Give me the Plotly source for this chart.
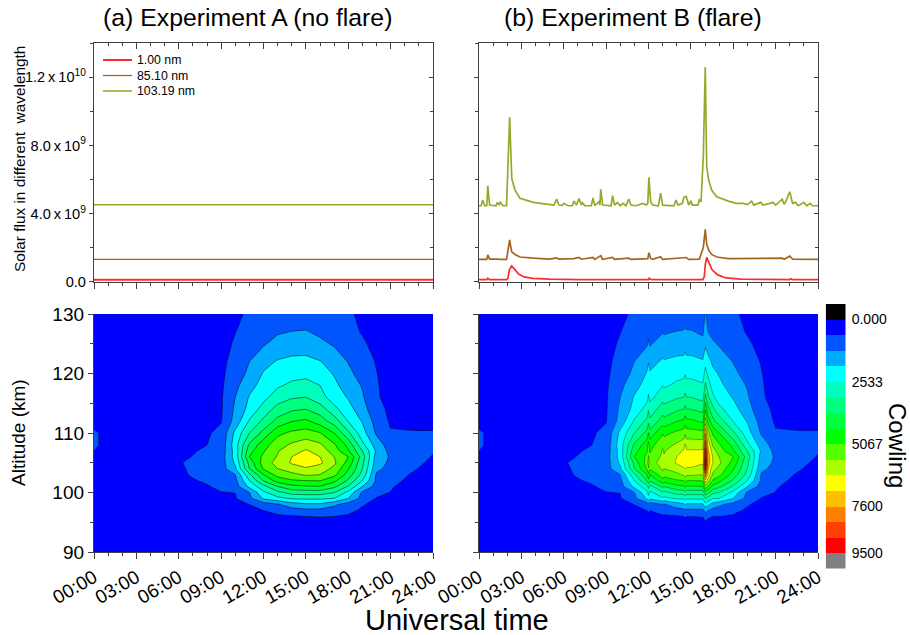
import numpy as np
import plotly.graph_objects as go

# ---------- flux data (units of 1e9) ----------
hours_line = [0, 24]
flux_a_1nm = [0.12, 0.12]
flux_a_85nm = [1.31, 1.31]
flux_a_103nm = [4.52, 4.52]

hours_103 = [0,0.15,0.26,0.4,0.55,0.62,0.75,1.2,1.3,1.42,1.5,1.7,1.95,2.1,2.17,2.25,2.32,2.55,2.9,3.85,5,5.3,5.5,5.65,5.9,6.0,6.3,
             6.6,6.72,6.9,7.08,7.25,7.32,7.5,7.95,8.07,8.2,8.5,8.56,8.62,8.75,9.35,9.46,9.6,9.8,10,10.2,10.4,10.6,10.75,11.1,11.6,
             11.85,11.95,12.03,12.15,12.3,12.7,12.86,13.0,13.8,13.95,14.1,14.4,14.5,14.67,14.85,15,15.1,15.5,15.6,15.72,15.88,16.02,
             16.12,16.26,16.47,16.83,17.65,18.2,18.7,19,19.3,19.45,19.95,20.1,20.6,20.8,21.0,21.2,21.47,21.6,21.72,22.0,22.2,22.4,
             22.6,23.0,23.2,23.45,23.6,24]
flux_b_103nm = [4.46,4.46,4.8,4.46,4.46,5.63,4.5,4.46,4.66,4.5,4.66,4.46,4.46,8.3,9.66,7.7,6.05,5.38,4.9,4.66,4.52,4.5,4.85,4.5,4.48,4.6,4.46,
                4.46,4.73,4.5,4.88,4.5,4.63,4.46,4.46,4.92,4.46,4.7,4.5,5.43,4.5,4.46,5.05,4.5,4.65,4.46,4.6,4.46,4.85,4.5,4.46,4.6,
                4.5,4.6,6.13,4.7,4.5,4.46,5.2,4.5,4.46,4.8,4.5,4.6,4.95,5.0,4.5,4.75,4.5,4.5,4.8,4.7,7.35,12.6,
                6.75,5.97,5.38,4.99,4.73,4.6,4.6,4.53,4.73,4.5,4.66,4.5,4.6,4.66,4.5,4.66,4.85,4.55,4.7,5.28,4.6,4.66,
                4.46,4.66,4.46,4.6,4.46,4.46]

hours_85 = [0,0.55,0.62,0.75,1.3,1.45,1.95,2.1,2.17,2.25,2.32,2.55,2.9,3.85,5,5.5,5.65,6.72,7.08,7.25,8.07,8.2,8.62,8.75,9.46,9.6,10.6,10.75,
            11.95,12.03,12.15,12.3,12.86,13,14.5,14.67,14.85,15.6,15.88,16.02,16.12,16.26,16.47,16.83,17.65,19.3,21.47,21.6,22,22.2,24]
flux_b_85nm = [1.31,1.31,1.57,1.33,1.33,1.31,1.31,1.95,2.45,2.05,1.75,1.6,1.45,1.38,1.33,1.4,1.32,1.36,1.42,1.32,1.42,1.31,1.53,1.32,1.43,1.31,1.38,1.31,
               1.35,1.7,1.38,1.31,1.47,1.31,1.38,1.42,1.31,1.33,2.0,3.07,2.2,1.85,1.6,1.45,1.36,1.35,1.38,1.32,1.5,1.32,1.31]

hours_1 = [0,0.55,0.62,0.75,1.95,2.05,2.15,2.31,2.5,2.8,3.2,3.8,5,7,12,12.05,12.2,15.85,15.95,16.02,16.12,16.3,16.5,16.9,17.5,18.5,20,22,22.05,22.2,24]
flux_b_1nm = [.12,.12,.2,.12,.12,.2,.7,.92,.75,.45,.28,.2,.15,.12,.12,.2,.12,.12,.3,1.0,1.43,1.1,.7,.4,.22,.15,.12,.12,.17,.12,.12]

# ---------- cowling grids ----------
altitudes = [90,95,96,97,98,99,100,101,102,103,104,105,106,107,108,110,112,114,116,118,120,122,125,127,130]
hours_grid = [0,1,3,6,7,8,9,10,11,12,13,14,15,16,17,18,19,20,21,22,23,24]
cowling_a = [
 [20,20,20,20,20,20,30,40,50,60,60,60,60,60,60,50,40,30,30,20,20,20],
 [100,100,100,100,120,150,180,220,280,350,400,430,450,450,430,380,300,220,180,150,120,100],
 [120,120,120,130,150,190,230,290,370,470,540,600,640,660,640,580,420,300,240,190,150,120],
 [150,150,150,160,190,240,300,400,520,640,850,1000,1100,1100,1000,760,560,400,310,240,190,150],
 [170,170,170,190,230,290,380,520,640,900,1200,1600,1800,1800,1380,1000,680,480,370,290,230,170],
 [200,200,210,240,290,370,470,590,1100,2000,2350,2600,2620,2620,2533,1900,1050,600,480,370,290,210],
 [220,220,250,300,400,520,620,640,1267,2400,3000,3400,3480,3480,3170,2350,1150,800,620,480,370,260],
 [240,240,270,380,480,590,760,1000,2050,2950,3800,4250,4360,4400,3950,3100,1900,1000,680,520,400,290],
 [260,260,300,480,600,700,880,1100,2533,3860,4700,5000,5067,5100,4600,3700,2533,1150,820,600,450,320],
 [280,280,330,540,680,780,950,1267,3000,4433,5300,5520,5800,5700,5250,4150,2950,1180,900,690,500,360],
 [290,290,340,570,700,810,980,1800,3800,5150,5700,6050,6250,6050,5550,4500,3167,1420,1050,860,610,440],
 [300,300,350,600,720,830,950,2000,3980,5350,5950,6400,6650,6450,5830,4850,3300,1550,1150,950,720,500],
 [380,300,350,540,650,790,950,2150,4433,5200,5750,6333,6550,6333,5700,5067,3500,1600,1200,1050,800,600],
 [640,340,340,480,590,720,900,2150,4200,5000,5650,6100,6400,6100,5400,4500,3167,1800,1050,950,800,680],
 [750,400,330,430,530,633,850,2250,3900,4800,5450,5800,6050,5820,5150,4250,2700,1600,950,880,800,720],
 [750,400,310,390,470,570,780,2050,3167,4000,4900,5200,5330,5100,4433,3300,2150,1180,680,680,670,680],
 [380,300,280,350,430,500,600,1500,2600,3300,4000,4400,4550,4100,3500,2500,1850,1000,560,500,480,460],
 [300,280,260,320,390,460,570,1380,2100,2800,3400,3700,3800,3500,2700,2150,1500,850,500,420,390,360],
 [280,260,240,300,360,430,560,1267,1950,2350,2850,3100,3170,2750,2250,1850,1340,700,450,380,350,320],
 [260,240,220,280,340,410,540,1100,1700,2120,2450,2650,2730,2533,2050,1600,1220,680,420,340,310,290],
 [240,220,200,260,320,380,510,950,1400,1950,2200,2340,2380,2200,1850,1400,1050,650,400,320,290,260],
 [230,210,190,240,300,360,480,850,1267,1700,1950,2050,2060,1930,1620,1240,880,600,370,300,270,250],
 [210,190,170,220,270,330,440,700,1000,1200,1480,1570,1600,1400,1200,920,700,500,330,270,240,220],
 [190,170,160,200,250,300,410,620,850,1050,1200,1280,1310,1150,1000,780,600,450,300,250,220,200],
 [170,150,140,180,220,270,370,550,700,800,870,900,900,880,800,700,540,400,270,220,200,180],
]
# columns of experiment B that differ from experiment A
col_b_1200 = [70,390,520,720,1050,2300,2750,3350,4300,4900,5650,5950,5750,5500,5300,4450,3650,3100,2600,2350,2150,1870,1330,1160,880]
col_b_1300 = [62,415,560,885,1250,2420,3100,3920,4850,5450,5850,6120,5900,5780,5570,5020,4120,3500,2950,2520,2270,2000,1530,1240,895]
col_b_1436 = [65,480,700,1160,1900,2750,3650,4500,5300,6000,6350,6900,6800,6650,6400,5600,4800,4000,3330,2870,2500,2160,1680,1380,950]
col_b_1554 = [60,450,660,1100,1800,2620,3480,4400,5100,5700,6050,6400,6450,6400,6050,5250,4300,3600,2950,2600,2260,1960,1440,1170,880]
col_b_1602 = [80,580,900,1500,2300,3200,4300,5500,6800,8000,9100,9700,9400,9100,8600,7600,6000,5000,4000,3300,2800,2300,1800,1600,1330]
col_b_1609 = [55,480,750,1250,2050,2900,3900,5000,6000,6800,7000,7300,7300,7100,6800,5900,4800,4000,3300,2800,2400,2100,1550,1250,900]
col_b_1630 = [55,440,630,1050,1650,2560,3320,4250,5000,5600,5900,6350,6300,6000,5600,4950,4000,3350,2650,2300,2050,1780,1350,1100,850]

level_start, level_end, level_count = 0, 9500, 15
band_colors = ["#000000","#0000ff","#0055ff","#00aaff","#00ffff","#00ffbf","#00ff80","#00ff40","#00ff00",
               "#55ff00","#aaff00","#ffff00","#ffbf00","#ff8000","#ff4000","#ff0000","#808080"]
band_centers = [-316.67,316.67,950,1583.33,2216.67,2850,3483.33,4116.67,4750,5383.33,6016.67,6650,7283.33,7916.67,8550,9183.33,9816.67]
bar_ticks = [0,2533,5067,7600,9500]
bar_labels = ["0.000","2533","5067","7600","9500"]

time_ticks = [0,3,6,9,12,15,18,21,24]
time_labels = ["00:00","03:00","06:00","09:00","12:00","15:00","18:00","21:00","24:00"]
flux_ticks = [0,4e9,8e9,12e9]
flux_labels = ["0.0","4.0\u2009x\u200910<sup>9</sup>","8.0\u2009x\u200910<sup>9</sup>","1.2\u2009x\u200910<sup>10</sup>"]
alt_ticks = [90,100,110,120,130]
legend_names = ["1.00 nm","85.10 nm","103.19 nm"]

COL_1 = "#ff2a2a"; COL_85 = "#a5651f"; COL_103 = "#93ab2b"
FONT = "Liberation Sans, Arial, sans-serif"
W, H = 910, 635

def xdom(a, b): return [a / W, b / W]
def ydom(top, bottom): return [1 - bottom / H, 1 - top / H]

# ---------- build B grid ----------
za = np.array(cowling_a, dtype=float)
col = {h: za[:, i] for i, h in enumerate(hours_grid)}
b_cols = [(h, col[h]) for h in [0,1,3,6,7,8,9,10,11]]
b_cols += [(11.9, col[12]), (12, np.array(col_b_1200)), (12.1, col[12]),
           (12.9, col[13]), (13, np.array(col_b_1300)), (13.1, col[13]),
           (14, col[14]), (14.5, col[15]), (14.6, np.array(col_b_1436)), (14.7, col[15]), (15, col[15]),
           (15.85, np.array(col_b_1554)), (16.03, np.array(col_b_1602)), (16.22, np.array(col_b_1609)), (16.55, np.array(col_b_1630))]
b_cols += [(h, col[h]) for h in [17,18,19,20,21,22,23,24]]
hours_b = [c[0] for c in b_cols]
zb = np.column_stack([c[1] for c in b_cols])

fig = go.Figure()
scale = [[i / 16, c] for i, c in enumerate(band_colors)]
contours = dict(start=level_start, end=level_end + 0.001, size=(level_end - level_start) / level_count, coloring="fill")

def flux(name, hrs, vals, color, xa, ya, width=1.7):
    fig.add_trace(go.Scatter(x=hrs, y=[v * 1e9 for v in vals], mode="lines", name=name, showlegend=False,
                             line=dict(color=color, width=width), xaxis=xa, yaxis=ya, hoverinfo="skip"))

flux(legend_names[0], hours_line, flux_a_1nm, COL_1, "x", "y", 2)
flux(legend_names[1], hours_line, flux_a_85nm, COL_85, "x", "y", 1.3)
flux(legend_names[2], hours_line, flux_a_103nm, COL_103, "x5", "y5", 1.6)
flux(legend_names[0], hours_1, flux_b_1nm, COL_1, "x2", "y2")
flux(legend_names[1], hours_85, flux_b_85nm, COL_85, "x2", "y2")
flux(legend_names[2], hours_103, flux_b_103nm, COL_103, "x6", "y6")

for z, hrs, xa, ya, lw in [(za, hours_grid, "x3", "y3", 0.6), (zb, hours_b, "x4", "y4", 0.4)]:
    fig.add_trace(go.Contour(x=hrs, y=altitudes, z=z, colorscale=scale, contours=contours, showscale=False,
                             line=dict(color="rgba(0,0,0,0.85)", width=lw, smoothing=0), xaxis=xa, yaxis=ya, hoverinfo="skip"))

fig.add_trace(go.Heatmap(x=[0], y=band_centers, z=[[c] for c in band_centers], colorscale=scale,
                         zmin=band_centers[0], zmax=band_centers[-1], showscale=False, xaxis="x7", yaxis="y7", hoverinfo="skip"))

AX = "#404040"
def x_axis(dom, anchor, labels=False, **kw):
    d = dict(domain=dom, range=[0, 24], anchor=anchor, automargin=False, tickmode="array", tickvals=time_ticks, ticks="outside", ticklen=6,
             tickwidth=1.2, tickcolor=AX, showgrid=False, zeroline=False, showline=True, linecolor=AX, linewidth=1.3,
             minor=dict(tickmode="linear", tick0=0, dtick=1, ticks="outside", ticklen=3, tickcolor=AX, showgrid=False))
    if labels:
        d.update(ticktext=time_labels, tickangle=-30, tickfont=dict(family=FONT, size=19, color="black"), showticklabels=True)
    else:
        d.update(showticklabels=False)
    d.update(kw)
    return d

def y_flux(dom, anchor, labels=False, **kw):
    d = dict(domain=dom, range=[0, 1.4e10], anchor=anchor, automargin=False, tickmode="array", tickvals=flux_ticks, ticks="outside", ticklen=4,
             tickwidth=1.2, tickcolor=AX, showgrid=False, zeroline=False, showline=True, linecolor=AX, linewidth=1.3,
             minor=dict(tickmode="linear", tick0=0, dtick=2e9, ticks="outside", ticklen=3, tickcolor=AX, showgrid=False))
    if labels:
        d.update(ticktext=flux_labels, tickfont=dict(family=FONT, size=14.6, color="black"))
    else:
        d.update(showticklabels=False)
    d.update(kw)
    return d

def y_alt(dom, anchor, labels=False):
    d = dict(domain=dom, range=[90, 130], anchor=anchor, automargin=False, tickmode="array", tickvals=alt_ticks, ticks="outside", ticklen=5,
             tickwidth=1.2, tickcolor=AX, showgrid=False, zeroline=False, showline=True, linecolor=AX, linewidth=1.3,
             minor=dict(tickmode="linear", tick0=90, dtick=5, ticks="outside", ticklen=3, tickcolor=AX, showgrid=False))
    if labels:
        d.update(tickfont=dict(family=FONT, size=19, color="black"))
    else:
        d.update(showticklabels=False)
    return d

LX, RX, TY, BY = xdom(94, 433), xdom(479, 818), ydom(43.3, 281.7), ydom(314, 552)
inside = dict(ticks="inside", side="top", minor=dict(tickmode="linear", tick0=0, dtick=1, ticks="inside", ticklen=3, tickcolor=AX, showgrid=False))
inside_y = dict(ticks="inside", side="right", minor=dict(tickmode="linear", tick0=0, dtick=2e9, ticks="inside", ticklen=3, tickcolor=AX, showgrid=False))

def text(s, x, y, size, angle=0, anchor="center"):
    fig.add_annotation(text=s, x=x / W, y=1 - y / H, xref="paper", yref="paper", showarrow=False, textangle=angle,
                       font=dict(family=FONT, size=size, color="black"), xanchor=anchor, yanchor="middle")

fig.update_layout(
    width=W, height=H, margin=dict(l=0, r=0, t=0, b=0), paper_bgcolor="white", plot_bgcolor="white", showlegend=False,
    xaxis=x_axis(LX, "y"), yaxis=y_flux(TY, "x", True),
    xaxis2=x_axis(RX, "y2"), yaxis2=y_flux(TY, "x2"),
    xaxis5=x_axis(LX, "y5", overlaying="x", **inside), yaxis5=y_flux(TY, "x5", overlaying="y", **inside_y),
    xaxis6=x_axis(RX, "y6", overlaying="x2", **inside), yaxis6=y_flux(TY, "x6", overlaying="y2", **inside_y),
    xaxis3=x_axis(LX, "y3", True), yaxis3=y_alt(BY, "x3", True),
    xaxis4=x_axis(RX, "y4", True), yaxis4=y_alt(BY, "x4"),
    xaxis7=dict(domain=xdom(825.7, 845.7), anchor="y7", visible=False, automargin=False),
    yaxis7=dict(domain=ydom(304, 568.5), anchor="x7", side="right", range=[10133.33, -633.33], tickmode="array", tickvals=bar_ticks,
                ticktext=bar_labels, ticks="", ticklabelstandoff=5, showgrid=False, zeroline=False, showline=False, automargin=False,
                tickfont=dict(family=FONT, size=14, color="black")),
)
# legend key inside panel (a)
for name, color, lw, ypx in zip(legend_names, [COL_1, COL_85, COL_103], [2, 1.3, 1.6], [60, 75.5, 91]):
    fig.add_shape(type="line", xref="paper", yref="paper", x0=103 / W, x1=132 / W, y0=1 - ypx / H, y1=1 - ypx / H,
                  line=dict(color=color, width=lw))
    text(name, 135, ypx, 12.3, anchor="left")

text("(a) Experiment A (no flare)", 248, 18, 24.8)
text("(b) Experiment B (flare)", 633, 18, 24.8)
text("Solar flux in different  wavelength", 20, 159, 15.4, -90)
text("Altitude (km)", 18, 433, 19, -90)
text("Universal time", 457, 620, 29)
text("Cowling", 898, 445, 24, 90)

fig.write_html("out.html", post_script="document.body.style.margin='0';", config=dict(displayModeBar=False))
